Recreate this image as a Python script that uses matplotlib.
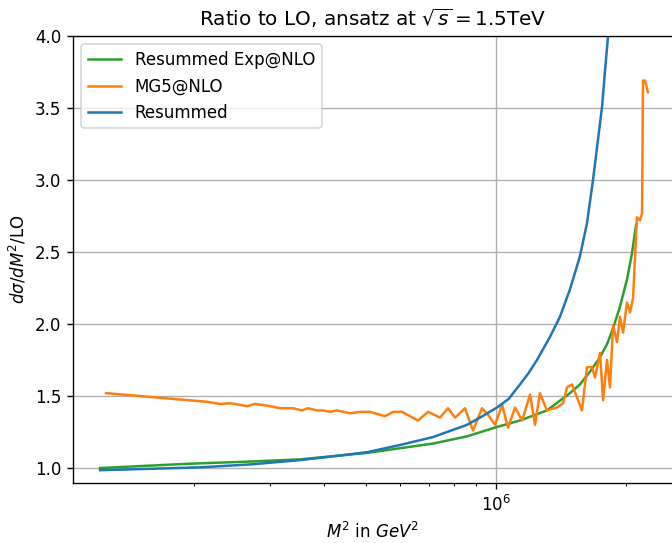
import matplotlib
matplotlib.use('Agg')
import matplotlib.pyplot as plt

# ------------------------------------------------------------
# data (M^2 in GeV^2, ratio to LO)
# ------------------------------------------------------------
exp_nlo_m2 = [1.212e5, 1.957e5, 2.70e5, 3.518e5, 5.029e5, 7.150e5, 8.568e5,
              1.005e6, 1.136e6, 1.312e6, 1.483e6, 1.564e6, 1.651e6, 1.741e6,
              1.807e6, 1.866e6, 1.936e6, 2.010e6, 2.064e6, 2.110e6]
exp_nlo_ratio = [1.00, 1.03, 1.045, 1.06, 1.105, 1.17, 1.22,
                 1.285, 1.33, 1.40, 1.52, 1.58, 1.67, 1.77,
                 1.86, 1.97, 2.12, 2.31, 2.49, 2.69]

mg5_m2 = [1.251e5, 1.499e5, 1.788e5, 2.143e5, 2.297e5, 2.423e5, 2.652e5,
          2.768e5, 2.999e5, 3.162e5, 3.389e5, 3.555e5, 3.671e5, 3.851e5,
          3.976e5, 4.127e5, 4.284e5, 4.592e5, 4.844e5, 5.108e5, 5.535e5,
          5.776e5, 6.059e5, 6.598e5, 6.960e5, 7.420e5, 7.743e5, 8.038e5,
          8.478e5, 8.846e5, 9.281e5, 9.583e5, 9.947e5, 1.033e6, 1.066e6,
          1.107e6, 1.149e6, 1.199e6, 1.231e6, 1.264e6, 1.312e6, 1.384e6,
          1.429e6, 1.460e6, 1.499e6, 1.540e6, 1.581e6, 1.624e6, 1.668e6,
          1.695e6, 1.741e6, 1.769e6, 1.807e6, 1.836e6, 1.866e6, 1.906e6,
          1.936e6, 1.968e6, 2.010e6, 2.043e6, 2.076e6, 2.120e6, 2.154e6,
          2.178e6, 2.189e6, 2.213e6, 2.248e6]
mg5_ratio = [1.52, 1.50, 1.48, 1.46, 1.445, 1.45, 1.43,
             1.445, 1.43, 1.415, 1.415, 1.40, 1.415, 1.40,
             1.40, 1.39, 1.40, 1.38, 1.39, 1.39, 1.36,
             1.39, 1.39, 1.33, 1.39, 1.35, 1.415, 1.35,
             1.415, 1.26, 1.415, 1.37, 1.30, 1.44, 1.28,
             1.42, 1.33, 1.51, 1.30, 1.52, 1.40, 1.42,
             1.45, 1.56, 1.58, 1.49, 1.40, 1.70, 1.70,
             1.63, 1.80, 1.47, 1.75, 1.56, 1.99, 1.875,
             2.05, 1.94, 2.15, 2.08, 2.18, 2.74, 2.72,
             2.77, 3.69, 3.69, 3.61]

resum_m2 = [1.212e5, 1.60e5, 2.07e5, 2.70e5, 3.518e5, 4.30e5, 5.029e5,
            6.00e5, 7.150e5, 8.568e5, 9.183e5, 1.005e6, 1.07e6, 1.136e6,
            1.19e6, 1.244e6, 1.333e6, 1.406e6, 1.483e6, 1.564e6, 1.624e6,
            1.677e6, 1.722e6, 1.760e6, 1.788e6, 1.817e6, 1.856e6]
resum_ratio = [0.985, 0.995, 1.005, 1.025, 1.055, 1.085, 1.11,
               1.16, 1.215, 1.30, 1.35, 1.42, 1.48, 1.58,
               1.66, 1.75, 1.91, 2.05, 2.24, 2.47, 2.70,
               3.0, 3.28, 3.51, 3.76, 4.0, 4.6]

# rendered at 120 dpi: 5.6 x 4.525 in -> 672 x 543 px
fig = plt.figure(figsize=(5.6, 4.525), dpi=120)
ax = fig.add_axes([0.1086, 0.1105, 0.8914, 0.8232])

ax.plot(exp_nlo_m2, exp_nlo_ratio, color='tab:green', label='Resummed Exp@NLO')
ax.plot(mg5_m2, mg5_ratio, color='tab:orange', label='MG5@NLO')
ax.plot(resum_m2, resum_ratio, color='tab:blue', label='Resummed')

ax.set_xscale('log')
ax.set_xlim(1.049e5, 2.555e6)
ax.set_ylim(0.896, 4.0)
ax.grid(True)
ax.spines['right'].set_visible(False)

ax.set_title(r'Ratio to LO, ansatz at $\sqrt{s}=1.5$TeV')
ax.set_xlabel(r'$M^2$ in $GeV^2$')
ax.set_ylabel(r'$d\sigma/dM^2$/LO')
ax.legend(loc='upper left')

fig.savefig('out.png', dpi=120)
